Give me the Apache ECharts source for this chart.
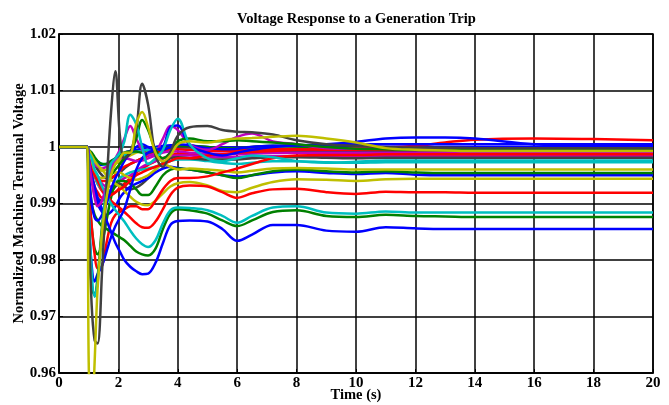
<!DOCTYPE html>
<html>
<head>
<meta charset="utf-8">
<script src="https://cdn.jsdelivr.net/npm/echarts@6/dist/echarts.min.js"></script>
<style>
  html, body { margin: 0; padding: 0; background: #fff; }
  #chart { width: 669px; height: 405px; }
</style>
</head>
<body>
<div id="chart"></div>
<script>
// Sample times (s) shared by every machine trace
const time = [0, 0.95, 1.0, 1.1, 1.2, 1.3, 1.45, 1.6, 1.75, 1.9, 2.05, 2.2, 2.4, 2.6, 2.8, 3.0, 3.25, 3.5, 3.75, 4.0, 4.4, 5.0, 5.5, 6.0, 6.5, 7.2, 8.0, 9.0, 10, 11, 12, 13, 14, 16, 18, 20];

// Axis ticks
const xTicks = [0, 2, 4, 6, 8, 10, 12, 14, 16, 18, 20];
const yTicks = [0.96, 0.97, 0.98, 0.99, 1.0, 1.01, 1.02];

// Normalized terminal voltage for each machine
const blue5 = [1, 1, 0.9995, 0.9985, 0.9975, 0.997, 0.9968, 0.997, 0.9975, 0.998, 0.9985, 0.999, 0.9993, 0.9995, 0.9997, 0.9998, 1.0, 1.0002, 1.0003, 1.0003, 1.0002, 1.0, 0.9999, 0.9999, 1.0, 1.0001, 1.0001, 1.0, 1.0, 1.0, 1.0, 1.0, 1.0, 1.0, 1.0, 1.0];
const red5 = [1, 1, 0.9985, 0.9965, 0.9948, 0.9935, 0.9922, 0.9915, 0.9915, 0.992, 0.9928, 0.9935, 0.9945, 0.9955, 0.9962, 0.9968, 0.9975, 0.998, 0.9985, 0.9988, 0.9988, 0.9987, 0.9987, 0.9988, 0.9989, 0.999, 0.999, 0.999, 0.999, 0.999, 0.999, 0.999, 0.999, 0.999, 0.999, 0.999];
const yellow5 = [1, 1, 0.9993, 0.998, 0.997, 0.9962, 0.9958, 0.996, 0.9965, 0.997, 0.9975, 0.998, 0.9985, 0.999, 0.9993, 0.9995, 0.9997, 0.9998, 0.9998, 0.9998, 0.9997, 0.9996, 0.9996, 0.9997, 0.9997, 0.9997, 0.9997, 0.9997, 0.9997, 0.9997, 0.9997, 0.9997, 0.9997, 0.9997, 0.9997, 0.9997];
const magenta3 = [1, 1, 0.9988, 0.997, 0.9955, 0.9945, 0.9935, 0.993, 0.993, 0.9935, 0.994, 0.9945, 0.995, 0.9958, 0.9965, 0.997, 0.9975, 0.998, 0.9984, 0.9985, 0.9985, 0.9983, 0.9982, 0.9982, 0.9983, 0.9984, 0.9984, 0.9984, 0.9984, 0.9984, 0.9984, 0.9984, 0.9984, 0.9984, 0.9984, 0.9984];
const cyan4 = [1, 1, 0.9995, 0.9988, 0.998, 0.9975, 0.997, 0.9968, 0.997, 0.9975, 0.998, 0.9985, 0.999, 0.9992, 0.9993, 0.9995, 0.9997, 0.9998, 0.9998, 0.9997, 0.9996, 0.9995, 0.9995, 0.9995, 0.9996, 0.9996, 0.9996, 0.9995, 0.9995, 0.9995, 0.9995, 0.9995, 0.9995, 0.9995, 0.9995, 0.9995];
const gray3 = [1, 1, 0.9992, 0.998, 0.997, 0.996, 0.995, 0.9945, 0.9945, 0.995, 0.9955, 0.9962, 0.997, 0.9975, 0.998, 0.9985, 0.999, 0.9995, 0.9998, 1.0, 1.0, 0.9998, 0.9995, 0.9993, 0.9993, 0.9993, 0.9993, 0.9992, 0.9992, 0.9992, 0.9992, 0.9992, 0.9992, 0.9992, 0.9992, 0.9992];
const red4 = [1, 1, 0.999, 0.997, 0.9955, 0.9945, 0.994, 0.994, 0.9945, 0.995, 0.9958, 0.9965, 0.997, 0.9975, 0.998, 0.9985, 0.999, 0.9993, 0.9995, 0.9996, 0.9995, 0.9993, 0.9993, 0.9994, 0.9995, 0.9996, 0.9996, 0.9995, 0.9995, 0.9995, 0.9995, 0.9995, 0.9995, 0.9995, 0.9995, 0.9995];
const green5 = [1, 1, 0.9995, 0.999, 0.9982, 0.9975, 0.997, 0.997, 0.9975, 0.998, 0.9985, 0.999, 0.9992, 0.9992, 0.999, 0.999, 0.9993, 0.9997, 1.0, 1.0002, 1.0002, 1.0, 0.9998, 0.9998, 1.0, 1.0002, 1.0001, 0.9999, 0.9998, 0.9998, 0.9998, 0.9998, 0.9998, 0.9998, 0.9998, 0.9998];
const cyan3 = [1, 1, 0.999, 0.997, 0.995, 0.9935, 0.9925, 0.992, 0.9925, 0.9935, 0.9945, 0.995, 0.9955, 0.9958, 0.996, 0.9962, 0.9965, 0.997, 0.9975, 0.9978, 0.9978, 0.9975, 0.9972, 0.997, 0.9972, 0.9975, 0.9975, 0.9973, 0.9972, 0.9973, 0.9973, 0.9973, 0.9973, 0.9973, 0.9973, 0.9973];
const gray2 = [1, 1, 0.998, 0.995, 0.9925, 0.991, 0.9905, 0.991, 0.992, 0.993, 0.9935, 0.993, 0.9925, 0.9928, 0.9935, 0.9945, 0.996, 0.9972, 0.998, 0.9982, 0.998, 0.9978, 0.9978, 0.9978, 0.998, 0.9982, 0.9982, 0.9981, 0.998, 0.9981, 0.9981, 0.9981, 0.9981, 0.9981, 0.9981, 0.9981];
const magenta2 = [1, 1, 0.999, 0.998, 0.997, 0.9965, 0.9962, 0.9965, 0.997, 0.9975, 0.998, 0.998, 0.9978, 0.9975, 0.9976, 0.998, 0.9985, 0.999, 0.9992, 0.9992, 0.999, 0.9988, 0.9988, 0.9987, 0.9988, 0.999, 0.999, 0.999, 0.999, 0.999, 0.999, 0.999, 0.999, 0.999, 0.999, 0.999];
const blue4 = [1, 1, 0.998, 0.995, 0.992, 0.990, 0.9885, 0.988, 0.9885, 0.9895, 0.991, 0.992, 0.993, 0.9935, 0.994, 0.9945, 0.9955, 0.9962, 0.9965, 0.9963, 0.996, 0.9955, 0.995, 0.9948, 0.995, 0.9955, 0.9957, 0.9954, 0.9952, 0.9954, 0.9951, 0.995, 0.995, 0.995, 0.995, 0.995];
const green4 = [1, 1, 0.993, 0.986, 0.982, 0.981, 0.983, 0.987, 0.991, 0.9935, 0.994, 0.994, 0.9935, 0.9925, 0.9915, 0.9915, 0.993, 0.995, 0.996, 0.9962, 0.996, 0.9955, 0.995, 0.9945, 0.995, 0.9957, 0.996, 0.9957, 0.9955, 0.9957, 0.9955, 0.9954, 0.9954, 0.9954, 0.9954, 0.9954];
const yellow4 = [1, 1, 0.999, 0.997, 0.9955, 0.9948, 0.9945, 0.9948, 0.9952, 0.9955, 0.9955, 0.995, 0.9945, 0.9942, 0.9945, 0.995, 0.996, 0.997, 0.9965, 0.996, 0.9962, 0.996, 0.9958, 0.9955, 0.9958, 0.9962, 0.9963, 0.9962, 0.996, 0.996, 0.996, 0.996, 0.996, 0.996, 0.996, 0.996];
const yellow3 = [1, 1, 0.9995, 0.9985, 0.9975, 0.9968, 0.996, 0.995, 0.9942, 0.9935, 0.993, 0.9922, 0.9912, 0.9903, 0.9898, 0.9897, 0.9905, 0.9918, 0.993, 0.9936, 0.9938, 0.9932, 0.9922, 0.992, 0.9928, 0.9938, 0.9943, 0.9942, 0.994, 0.9943, 0.9944, 0.9944, 0.9944, 0.9944, 0.9944, 0.9944];
const red1 = [1, 1, 0.998, 0.996, 0.995, 0.994, 0.9925, 0.9915, 0.9905, 0.9898, 0.9892, 0.9885, 0.9875, 0.9865, 0.9858, 0.9857, 0.9868, 0.989, 0.9915, 0.9928, 0.9932, 0.993, 0.992, 0.991, 0.9918, 0.9925, 0.9926, 0.992, 0.9917, 0.9921, 0.992, 0.992, 0.9919, 0.9919, 0.9919, 0.9919];
const red2 = [1, 1, 0.997, 0.995, 0.993, 0.992, 0.991, 0.991, 0.9915, 0.992, 0.9925, 0.993, 0.994, 0.995, 0.9955, 0.996, 0.9965, 0.997, 0.9975, 0.998, 0.998, 0.9985, 0.9987, 0.999, 0.9991, 0.9993, 0.9995, 0.9997, 0.9998, 0.9999, 1.0002, 1.0008, 1.0013, 1.0015, 1.0014, 1.0012];
const red3 = [1, 1, 0.993, 0.986, 0.981, 0.9785, 0.979, 0.983, 0.9865, 0.988, 0.9885, 0.989, 0.9895, 0.9895, 0.989, 0.989, 0.9905, 0.9925, 0.994, 0.9945, 0.9945, 0.9948, 0.9955, 0.9962, 0.997, 0.998, 0.9985, 0.9986, 0.9986, 0.9987, 0.9987, 0.9987, 0.9987, 0.9987, 0.9987, 0.9987];
const green1 = [1, 1, 0.996, 0.990, 0.988, 0.987, 0.986, 0.9855, 0.985, 0.9845, 0.984, 0.9835, 0.9825, 0.9815, 0.981, 0.9808, 0.982, 0.9855, 0.9882, 0.989, 0.9888, 0.9882, 0.987, 0.986, 0.987, 0.9885, 0.9888, 0.9878, 0.9876, 0.988, 0.9878, 0.9877, 0.9876, 0.9876, 0.9876, 0.9876];
const cyan1 = [1, 1, 0.999, 0.998, 0.996, 0.995, 0.993, 0.9915, 0.990, 0.9888, 0.9878, 0.9868, 0.9852, 0.9838, 0.9828, 0.9823, 0.9835, 0.9865, 0.9888, 0.9893, 0.9892, 0.9888, 0.9878, 0.9866, 0.9878, 0.9893, 0.9895, 0.9884, 0.9882, 0.9886, 0.9884, 0.9884, 0.9884, 0.9884, 0.9884, 0.9884];
const blue1 = [1, 1, 0.998, 0.995, 0.993, 0.991, 0.989, 0.987, 0.985, 0.983, 0.9815, 0.980, 0.9788, 0.978, 0.9775, 0.9776, 0.9795, 0.983, 0.9862, 0.9869, 0.987, 0.9868, 0.9855, 0.9834, 0.9845, 0.9862, 0.9862, 0.9852, 0.985, 0.9858, 0.9856, 0.9855, 0.9855, 0.9855, 0.9855, 0.9855];
const blue3 = [1, 1, 0.995, 0.990, 0.9875, 0.987, 0.988, 0.990, 0.9925, 0.9945, 0.996, 0.9975, 0.999, 1.0, 1.0005, 1.0, 0.9995, 0.9995, 1.0, 1.0005, 1.0003, 0.9998, 0.9996, 0.9997, 1.0, 1.0002, 1.0003, 1.0005, 1.0009, 1.0015, 1.0017, 1.0017, 1.0015, 1.0005, 1.0002, 1.0002];
const magenta1 = [1, 1, 0.998, 0.994, 0.991, 0.9895, 0.9905, 0.9935, 0.996, 0.998, 0.9995, 1.0015, 1.0037, 1.0015, 0.9995, 0.9985, 0.999, 1.0015, 1.0037, 1.003, 1.0005, 0.9995, 1.0005, 1.0018, 1.0024, 1.001, 1.0005, 0.9998, 0.9997, 0.9997, 0.9997, 0.9997, 0.9997, 0.9997, 0.9997, 0.9997];
const blue2 = [1, 1, 0.988, 0.979, 0.9762, 0.9775, 0.979, 0.9815, 0.984, 0.986, 0.9875, 0.989, 0.9925, 0.996, 0.998, 0.999, 0.9995, 1.0, 1.0035, 1.0038, 1.0003, 0.999, 0.9985, 0.999, 0.9995, 1.0, 1.0003, 1.0004, 1.0005, 1.0005, 1.0005, 1.0005, 1.0005, 1.0005, 1.0005, 1.0005];
const green2 = [1, 1, 0.984, 0.9755, 0.9738, 0.977, 0.986, 0.992, 0.995, 0.996, 0.997, 0.998, 0.999, 1.0015, 1.0048, 1.003, 0.9995, 0.998, 0.999, 1.001, 1.0015, 1.001, 1.001, 1.0012, 1.001, 1.0008, 1.0005, 1.0, 0.9997, 0.9996, 0.9995, 0.9995, 0.9995, 0.9995, 0.9995, 0.9995];
const cyan2 = [1, 1, 0.990, 0.978, 0.9735, 0.976, 0.985, 0.993, 0.997, 0.998, 0.999, 1.001, 1.0057, 1.004, 1.0, 0.997, 0.998, 0.9995, 1.003, 1.005, 1.0005, 0.998, 0.9975, 0.998, 0.9985, 0.9982, 0.9975, 0.9972, 0.9974, 0.9976, 0.9976, 0.9976, 0.9976, 0.9976, 0.9976, 0.9976];
const gray1 = [1, 1, 0.988, 0.972, 0.9658, 0.9652, 0.978, 0.993, 1.006, 1.0134, 1.002, 0.998, 0.999, 1.003, 1.0112, 1.0075, 0.9985, 0.9965, 0.999, 1.002, 1.0035, 1.0037, 1.003, 1.0027, 1.0026, 1.0022, 1.0012, 1.0005, 1.0002, 1.0, 0.9999, 0.9999, 0.9998, 0.9998, 0.9998, 0.9998];
const yellow1 = [1, 1, 0.962, 0.950, 0.962, 0.975, 0.985, 0.991, 0.995, 0.997, 0.998, 0.999, 0.999, 1.004, 1.0062, 1.0035, 0.999, 0.9975, 0.9985, 1.0005, 1.001, 1.0008, 1.0012, 1.0015, 1.0016, 1.0018, 1.002, 1.0015, 1.0008, 0.9998, 0.9995, 0.9994, 0.9993, 0.9993, 0.9993, 0.9993];

// Line colours
const BLUE = '#0000ff', GREEN = '#008000', RED = '#ff0000', CYAN = '#00bfbf',
      MAGENTA = '#bf00bf', YELLOW = '#bfbf00', GRAY = '#404040';

// Drawing order: later entries sit on top
const traces = [
  [blue5, BLUE], [red5, RED], [yellow5, YELLOW], [magenta3, MAGENTA], [cyan4, CYAN],
  [gray3, GRAY], [red4, RED], [green5, GREEN], [cyan3, CYAN], [gray2, GRAY],
  [magenta2, MAGENTA], [blue4, BLUE], [green4, GREEN], [yellow4, YELLOW], [yellow3, YELLOW],
  [red1, RED], [red2, RED], [red3, RED], [green1, GREEN], [cyan1, CYAN],
  [blue1, BLUE], [blue3, BLUE], [magenta1, MAGENTA], [blue2, BLUE], [green2, GREEN],
  [cyan2, CYAN], [gray1, GRAY], [yellow1, YELLOW]
];

const FONT = 'Liberation Serif';

const series = traces.map(([vals, color]) => ({
  type: 'line',
  data: time.map((t, i) => [t, vals[i]]),
  showSymbol: false,
  smooth: 0.35,
  clip: true,
  lineStyle: { color: color, width: 2.5 },
  itemStyle: { color: color },
  emphasis: { disabled: true },
  animation: false
}));

const fmtY = v => String(parseFloat(v.toFixed(2)));

const chart = echarts.init(document.getElementById('chart'), null, { renderer: 'canvas' });
chart.setOption({
  backgroundColor: '#fff',
  animation: false,
  title: {
    text: 'Voltage Response to a Generation Trip',
    left: 232,
    top: 7,
    textStyle: { fontFamily: FONT, fontWeight: 'bold', fontSize: 14.5, color: '#000' }
  },
  grid: {
    left: 59, right: 16, top: 34, bottom: 32,
    containLabel: false, outerBoundsMode: 'none',
    show: true, borderColor: '#000', borderWidth: 1.5, backgroundColor: '#fff'
  },
  xAxis: {
    type: 'value',
    min: xTicks[0], max: xTicks[xTicks.length - 1], interval: 2,
    name: 'Time (s)', nameLocation: 'middle', nameGap: 15, nameMoveOverlap: false,
    nameTextStyle: { fontFamily: FONT, fontWeight: 'bold', fontSize: 14.5, color: '#000' },
    axisLine: { lineStyle: { color: '#000', width: 1.5 } },
    axisTick: { inside: true, length: 4, lineStyle: { color: '#000' } },
    axisLabel: { fontFamily: FONT, fontWeight: 'bold', fontSize: 15, color: '#000', margin: 3 },
    splitLine: { show: true, lineStyle: { color: '#000', width: 1.5 } }
  },
  yAxis: {
    type: 'value',
    min: yTicks[0], max: yTicks[yTicks.length - 1], interval: 0.01,
    name: 'Normalized Machine Terminal Voltage', nameLocation: 'middle', nameGap: 32, nameMoveOverlap: false,
    nameTextStyle: { fontFamily: FONT, fontWeight: 'bold', fontSize: 14.5, color: '#000' },
    axisLine: { lineStyle: { color: '#000', width: 1.5 } },
    axisTick: { inside: true, length: 4, lineStyle: { color: '#000' } },
    axisLabel: { fontFamily: FONT, fontWeight: 'bold', fontSize: 15, color: '#000', margin: 3, formatter: fmtY },
    splitLine: { show: true, lineStyle: { color: '#000', width: 1.5 } }
  },
  series: series
});
</script>
</body>
</html>
